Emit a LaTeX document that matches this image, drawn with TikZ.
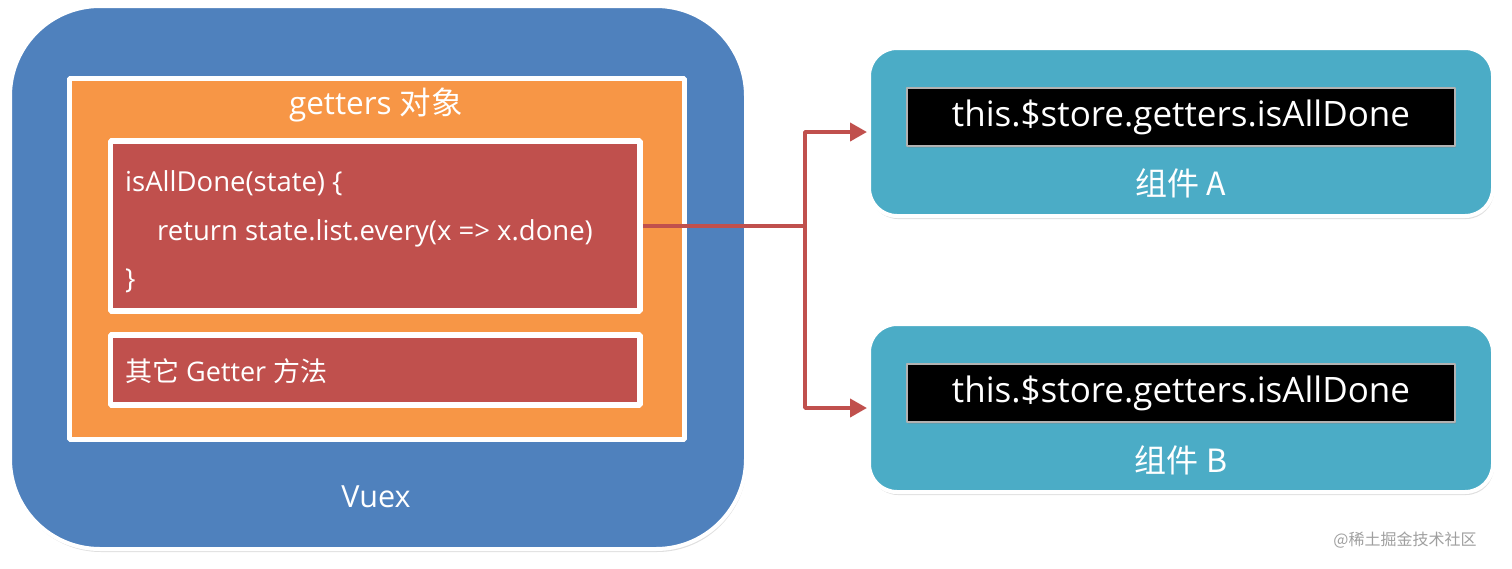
\documentclass[tikz,border=0pt]{standalone}
\usepackage{fontspec}
\setmainfont{Open Sans}
\newfontfamily\cjk{Noto Sans CJK SC}
\usetikzlibrary{shadows,arrows.meta}
\definecolor{vuexblue}{HTML}{4F81BD}
\definecolor{getorange}{HTML}{F79646}
\definecolor{fnred}{HTML}{C0504D}
\definecolor{compcyan}{HTML}{4BACC6}
\begin{document}
\begin{tikzpicture}[x=1pt,y=-1pt,line join=bevel]
  \tikzstyle{frame}=[draw=white,fill=vuexblue,line width=4pt,rounded corners=90pt,drop shadow={opacity=0.25,shadow xshift=1pt,shadow yshift=-3pt}]
  \tikzstyle{group}=[draw=white,fill=getorange,line width=5pt,drop shadow={opacity=0.25,shadow xshift=1pt,shadow yshift=-2pt}]
  \tikzstyle{method}=[draw=white,fill=fnred,line width=5.5pt,drop shadow={opacity=0.25,shadow xshift=1pt,shadow yshift=-2pt}]
  \tikzstyle{comp}=[draw=white,fill=compcyan,line width=4pt,rounded corners=28pt,drop shadow={opacity=0.25,shadow xshift=1pt,shadow yshift=-3pt}]
  \tikzstyle{expr}=[draw=gray!60,fill=black,line width=1.5pt,text=white,font=\fontsize{35}{40}\selectfont,drop shadow={opacity=0.3,shadow xshift=1pt,shadow yshift=-2pt}]
  \tikzstyle{txt}=[text=white,inner sep=0pt]
  \tikzstyle{link}=[draw=fnred,line width=4pt,-{Triangle[length=17pt,width=18pt]}]
  \useasboundingbox (0,0) rectangle (1512,568);
  % left: Vuex store
  \node[frame,minimum width=736pt,minimum height=543pt] (V) at (378,277.5) {};
  \node[group,minimum width=615pt,minimum height=361pt] (G) at (377,259) {};
  \node[method,minimum width=529.5pt,minimum height=170pt] (F_1) at (375.25,226) {};
  \node[method,minimum width=529.5pt,minimum height=70pt] (F_2) at (375.25,370) {};
  \node[txt,font=\fontsize{31.5}{36}\selectfont] (G_t) at (376,105) {getters {\cjk 对象}};
  \node[txt,anchor=west,align=left,font=\fontsize{27.5}{48.5}\selectfont] (F_1t) at (125,232)
    {isAllDone(state) \{\\\hspace*{32pt}return state.list.every(x => x.done)\\\}};
  \node[txt,anchor=west,font=\fontsize{27}{30}\selectfont] (F_2t) at (125,371) {{\cjk 其它} Getter {\cjk 方法}};
  \node[txt,font=\fontsize{30.5}{34}\selectfont] (V_t) at (376,497) {Vuex};
  % right: components
  \node[comp,minimum width=624pt,minimum height=168pt] (C_A) at (1181,132) {};
  \node[comp,minimum width=624pt,minimum height=168pt] (C_B) at (1181,408) {};
  \node[expr,minimum width=548pt,minimum height=58pt] (E_A) at (1181,117) {this.\$store.getters.isAllDone};
  \node[expr,minimum width=548pt,minimum height=58pt] (E_B) at (1181,393) {this.\$store.getters.isAllDone};
  \node[txt,font=\cjk\fontsize{32}{36}\selectfont] (C_At) at (1181,183) {组件 A};
  \node[txt,font=\cjk\fontsize{32}{36}\selectfont] (C_Bt) at (1181,460) {组件 B};
  % connectors
  \coordinate (J) at (805,226);
  \draw[draw=fnred,line width=4pt] (F_1.east) -- (J);
  \draw[link] (J) |- (C_A.west);
  \draw[link] (J) |- (C_B.west);
  \node[text=gray!75,font=\cjk\fontsize{16}{18}\selectfont] (W) at (1405,540) {@稀土掘金技术社区};
\end{tikzpicture}
\end{document}
